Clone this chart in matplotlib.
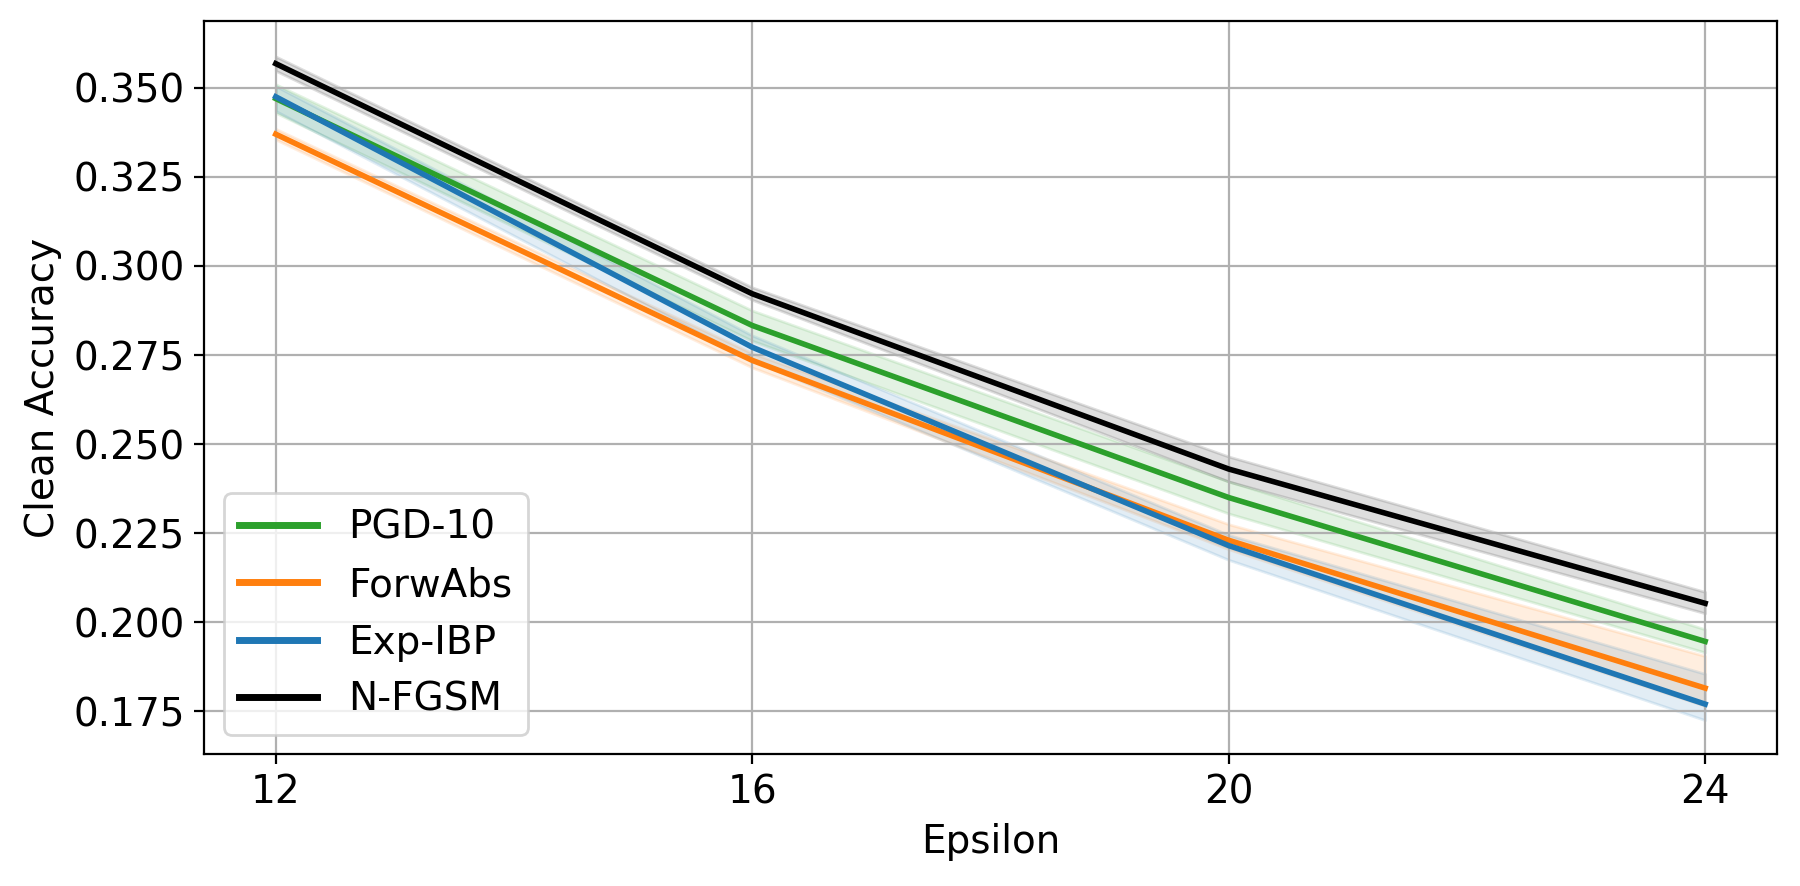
import matplotlib
matplotlib.use("Agg")
import matplotlib.pyplot as plt

eps = [12, 16, 20, 24]

pgd = [0.347, 0.2833, 0.235, 0.1946]
pgd_lo = [0.343, 0.279, 0.2305, 0.1915]
pgd_hi = [0.351, 0.2875, 0.2395, 0.198]

forw = [0.337, 0.2735, 0.223, 0.1815]
forw_lo = [0.3355, 0.2715, 0.2205, 0.1765]
forw_hi = [0.3385, 0.2755, 0.2275, 0.1905]

expibp = [0.3475, 0.2772, 0.2215, 0.177]
expibp_lo = [0.3435, 0.2735, 0.2175, 0.1725]
expibp_hi = [0.3505, 0.2805, 0.2245, 0.1855]

nfgsm = [0.3568, 0.2922, 0.243, 0.2053]
nfgsm_lo = [0.3548, 0.2905, 0.2395, 0.2025]
nfgsm_hi = [0.3588, 0.294, 0.2465, 0.2085]

series = [
    ("PGD-10", pgd, pgd_lo, pgd_hi, "tab:green"),
    ("ForwAbs", forw, forw_lo, forw_hi, "tab:orange"),
    ("Exp-IBP", expibp, expibp_lo, expibp_hi, "tab:blue"),
    ("N-FGSM", nfgsm, nfgsm_lo, nfgsm_hi, "black"),
]

plt.rcParams['font.size'] = 14

fig = plt.figure(figsize=(9, 4.43), dpi=200)
ax = fig.add_subplot(1, 1, 1)
fig.subplots_adjust(left=0.1135, right=0.987, top=0.976, bottom=0.149)

for name, y, lo, hi, c in series:
    ax.plot(eps, y, color=c, lw=2, label=name)
    ax.fill_between(eps, lo, hi, color=c, alpha=0.13)

ax.set_xticks(eps)
ax.set_xlim(11.4, 24.6)
ax.set_ylim(0.163, 0.3687)
ax.set_yticks([0.175, 0.2, 0.225, 0.25, 0.275, 0.3, 0.325, 0.35])
ax.set_xlabel("Epsilon")
ax.set_ylabel("Clean Accuracy")
ax.grid()
leg = ax.legend(loc='lower left')
for l in leg.get_lines():
    l.set_linewidth(2.5)

plt.savefig("out.png", dpi=200)
